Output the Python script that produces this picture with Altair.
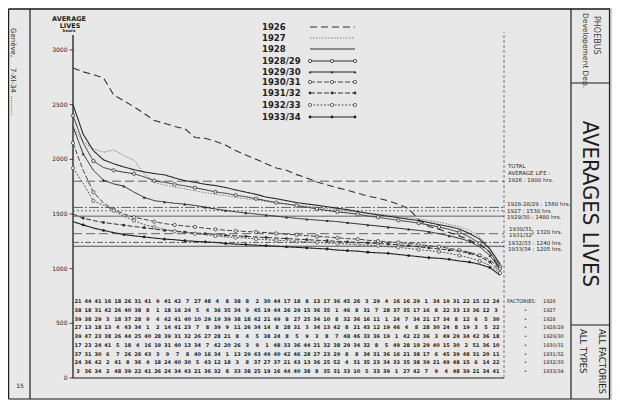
import altair as alt
import pandas as pd

# ---------------- data ----------------
years = ["1926", "1927", "1928", "1928/29", "1929/30", "1930/31", "1931/32", "1932/33", "1933/34"]
ranks = list(range(1, 44))

s1926 = [2835, 2800, 2775, 2744, 2590, 2535, 2480, 2420, 2355, 2330,
         2300, 2280, 2200, 2192, 2165, 2130, 2080, 2040, 2000, 1960,
         1920, 1900, 1860, 1830, 1793, 1765, 1740, 1718, 1690, 1664,
         1645, 1620, 1590, 1550, 1450, 1385, 1360, 1330, 1300, 1262,
         1220, 1150, 990]
s1927 = [2300, 2160, 2095, 2065, 2085, 2035, 1990, 1870, 1790, 1765,
         1745, 1730, 1712, 1695, 1680, 1668, 1652, 1640, 1628, 1614,
         1600, 1590, 1578, 1570, 1558, 1548, 1540, 1528, 1520, 1508,
         1500, 1490, 1478, 1468, 1455, 1440, 1425, 1405, 1385, 1350,
         1290, 1190, 1050]
s1928 = [2500, 2230, 2080, 1995, 1960, 1930, 1905, 1885, 1870, 1858,
         1830, 1805, 1790, 1772, 1760, 1742, 1720, 1700, 1680, 1655,
         1640, 1622, 1604, 1592, 1580, 1566, 1552, 1540, 1522, 1506,
         1492, 1480, 1466, 1452, 1440, 1422, 1402, 1385, 1362, 1322,
         1270, 1180, 1040]
s1928_29 = [2400, 2150, 1985, 1925, 1900, 1882, 1868, 1840, 1805, 1790,
            1772, 1758, 1740, 1722, 1702, 1690, 1672, 1658, 1640, 1622,
            1604, 1592, 1578, 1562, 1546, 1532, 1520, 1510, 1498, 1482,
            1470, 1456, 1442, 1430, 1416, 1400, 1380, 1360, 1332, 1290,
            1232, 1150, 1020]
s1929_30 = [2300, 2050, 1900, 1810, 1775, 1755, 1700, 1652, 1622, 1610,
            1598, 1590, 1578, 1562, 1546, 1532, 1520, 1510, 1500, 1490,
            1480, 1470, 1460, 1452, 1444, 1438, 1430, 1420, 1410, 1400,
            1390, 1380, 1370, 1360, 1350, 1338, 1320, 1300, 1278, 1250,
            1200, 1120, 1000]
s1930_31 = [2150, 1900, 1700, 1600, 1540, 1500, 1470, 1452, 1430, 1412,
            1400, 1390, 1382, 1370, 1360, 1352, 1345, 1340, 1335, 1330,
            1322, 1315, 1310, 1302, 1295, 1290, 1282, 1275, 1270, 1260,
            1252, 1245, 1240, 1230, 1222, 1210, 1200, 1186, 1170, 1150,
            1122, 1080, 1000]
s1931_32 = [1500, 1462, 1440, 1422, 1410, 1398, 1385, 1375, 1362, 1350,
            1345, 1335, 1326, 1320, 1314, 1305, 1300, 1295, 1290, 1285,
            1280, 1275, 1270, 1265, 1260, 1255, 1250, 1245, 1240, 1235,
            1230, 1225, 1218, 1210, 1200, 1190, 1180, 1170, 1160, 1140,
            1110, 1060, 980]
s1932_33 = [1920, 1780, 1620, 1580, 1530, 1480, 1440, 1402, 1380, 1360,
            1342, 1330, 1320, 1310, 1300, 1290, 1285, 1280, 1272, 1265,
            1260, 1255, 1250, 1245, 1240, 1235, 1230, 1225, 1220, 1215,
            1210, 1200, 1195, 1185, 1175, 1165, 1155, 1140, 1120, 1100,
            1070, 1030, 960]
s1933_34 = [1430, 1400, 1372, 1350, 1330, 1312, 1300, 1290, 1280, 1270,
            1265, 1255, 1250, 1245, 1240, 1230, 1225, 1220, 1215, 1210,
            1205, 1200, 1195, 1190, 1185, 1180, 1170, 1165, 1160, 1150,
            1145, 1140, 1130, 1120, 1110, 1100, 1095, 1085, 1070, 1060,
            1040, 1010, 940]
series_values = [s1926, s1927, s1928, s1928_29, s1929_30, s1930_31, s1931_32, s1932_33, s1933_34]

total_values = [1800, 1560, 1530, 1480, 1320, 1240, 1205]
y_ticks = [0, 500, 1000, 1500, 2000, 2500, 3000]

table_rows = [
    [21, 44, 41, 16, 18, 26, 31, 41, 9, 41, 42, 7, 27, 48, 4, 8, 38, 8, 2, 30, 44, 17, 18, 8, 13, 17, 36, 45, 26, 3, 29, 4, 16, 16, 29, 1, 34, 19, 31, 22, 15, 12, 24],
    [38, 18, 31, 42, 26, 40, 38, 8, 1, 18, 16, 24, 5, 4, 36, 35, 34, 9, 45, 19, 44, 26, 29, 15, 36, 35, 1, 46, 8, 31, 7, 28, 37, 35, 17, 16, 8, 22, 33, 13, 36, 12, 3],
    [39, 38, 29, 3, 18, 37, 28, 9, 4, 42, 41, 40, 10, 29, 19, 39, 38, 18, 42, 21, 49, 8, 27, 25, 34, 10, 8, 32, 36, 16, 11, 1, 24, 7, 34, 21, 17, 34, 8, 12, 6, 5, 30],
    [27, 13, 18, 13, 4, 43, 34, 1, 2, 14, 41, 23, 7, 8, 39, 9, 11, 26, 34, 14, 8, 28, 31, 3, 34, 13, 42, 8, 21, 43, 12, 19, 46, 4, 8, 28, 30, 24, 8, 19, 3, 5, 22],
    [39, 47, 23, 38, 26, 44, 25, 40, 28, 39, 31, 32, 26, 27, 28, 21, 8, 4, 5, 38, 24, 8, 5, 9, 3, 8, 7, 48, 46, 33, 36, 19, 1, 42, 22, 36, 3, 49, 29, 34, 42, 36, 18],
    [17, 23, 24, 41, 5, 18, 4, 16, 19, 31, 40, 13, 34, 7, 42, 20, 26, 3, 9, 1, 48, 33, 36, 44, 21, 32, 38, 29, 34, 32, 8, 5, 49, 28, 19, 29, 40, 15, 30, 2, 51, 36, 10],
    [37, 31, 30, 6, 7, 26, 26, 43, 3, 9, 7, 8, 40, 16, 34, 1, 13, 29, 43, 49, 40, 42, 46, 28, 27, 23, 29, 8, 8, 34, 31, 36, 16, 21, 38, 17, 6, 45, 39, 48, 31, 20, 11],
    [24, 36, 42, 2, 41, 8, 36, 4, 18, 24, 40, 30, 5, 43, 12, 18, 3, 8, 37, 27, 37, 21, 43, 13, 36, 25, 52, 4, 31, 35, 23, 34, 33, 35, 38, 39, 21, 49, 48, 15, 6, 14, 22],
    [3, 36, 34, 2, 48, 39, 22, 41, 26, 24, 34, 43, 21, 36, 32, 8, 33, 38, 25, 19, 16, 44, 40, 38, 8, 35, 31, 33, 10, 5, 33, 39, 1, 27, 42, 7, 9, 4, 48, 39, 21, 34, 41],
]

# ---------------- geometry & styles ----------------
M = 8
W, H = 604, 392
X_PX0, X_PX1 = 73.0, 500.0
PXR = (X_PX1 - X_PX0) / 42.0
Y_PX0, Y_PX3 = 378.0, 50.0
PXH = (Y_PX0 - Y_PX3) / 3000.0


def rk(px):
    return 1 + (px - X_PX0) / PXR


def hr(py):
    return (Y_PX0 - py) / PXH


INK = "#1e1e1e"
PAPER = "#e8e8e8"
FONT = "DejaVu Sans"
NARROW = "Liberation Sans Narrow, DejaVu Sans Condensed, DejaVu Sans"

XS = alt.Scale(domain=[rk(M), rk(M + W)], nice=False, zero=False)
YS = alt.Scale(domain=[hr(M + H), hr(M)], nice=False, zero=False)


def X(f):
    return alt.X(f, type="quantitative", scale=XS, axis=None)


def Y(f):
    return alt.Y(f, type="quantitative", scale=YS, axis=None)


STYLE = {
    "1926":    dict(color="#333333", dash=[7, 4], width=1.1, marker=None),
    "1927":    dict(color="#808080", dash=[1.5, 1.5], width=1.0, marker=None),
    "1928":    dict(color="#2a2a2a", dash=[1, 0], width=1.1, marker=None),
    "1928/29": dict(color="#333333", dash=[1, 0], width=1.0, marker="open"),
    "1929/30": dict(color="#262626", dash=[1, 0], width=1.0, marker="tri"),
    "1930/31": dict(color="#444444", dash=[5, 2], width=1.0, marker="open"),
    "1931/32": dict(color="#333333", dash=[5, 2], width=1.0, marker="dot"),
    "1932/33": dict(color="#555555", dash=[2, 1.5], width=1.0, marker="open"),
    "1933/34": dict(color="#202020", dash=[1, 0], width=1.1, marker="dot"),
}
TOTAL_STYLE = [([9, 4], "#505050"), ([10, 2, 2, 2], "#555555"), ([2, 2], "#666666"),
               ([1, 0], "#555555"), ([9, 4], "#555555"), ([6, 2, 2, 2], "#505050"), ([1, 0], "#444444")]

ONE = pd.DataFrame({"k": [0]})
layers = []


def marker_layer(df, color, kind):
    if kind == "open":
        return alt.Chart(df).mark_point(shape="circle", filled=True, fill=PAPER, stroke=color,
                                        strokeWidth=0.8, size=11, opacity=1).encode(x=X("x"), y=Y("y"))
    if kind == "tri":
        return alt.Chart(df).mark_point(shape="triangle-up", filled=True, color=color,
                                        size=9, opacity=1).encode(x=X("x"), y=Y("y"))
    return alt.Chart(df).mark_circle(color=color, size=8, opacity=1).encode(x=X("x"), y=Y("y"))


def txt(s, px, py, size=6, angle=0, align="left", weight="normal", font=FONT, color=INK, baseline="middle"):
    return alt.Chart(ONE).mark_text(text=s, fontSize=size, angle=angle, align=align, baseline=baseline,
                                    fontWeight=weight, font=font, color=color).encode(
        x=alt.value(px - M), y=alt.value(py - M))


def prule(x1, y1, x2, y2, color=INK, width=1.2, dash=None):
    kw = dict(color=color, strokeWidth=width)
    if dash:
        kw["strokeDash"] = dash
    return alt.Chart(ONE).mark_rule(**kw).encode(
        x=alt.value(x1 - M), x2=alt.value(x2 - M), y=alt.value(y1 - M), y2=alt.value(y2 - M))


# right margin shading
layers.append(alt.Chart(ONE).mark_rect(color="#cfcfcf").encode(
    x=alt.value(610 - M), x2=alt.value(W), y=alt.value(0), y2=alt.value(H)))

# y axis: line, ticks and labels drawn through the scales
axis_df = pd.DataFrame({"x": [1.0], "y": [0.0], "y2": [hr(35)]})
layers.append(alt.Chart(axis_df).mark_rule(color=INK, strokeWidth=1.3).encode(
    x=X("x"), y=Y("y"), y2="y2:Q"))
tick_df = pd.DataFrame({"x": [rk(69.5)] * len(y_ticks), "x2": [1.0] * len(y_ticks), "y": y_ticks,
                        "lx": [rk(67.5)] * len(y_ticks), "t": [str(v) for v in y_ticks]})
layers.append(alt.Chart(tick_df).mark_rule(color=INK, strokeWidth=0.8).encode(
    x=X("x"), x2="x2:Q", y=Y("y")))
layers.append(alt.Chart(tick_df).mark_text(align="right", baseline="middle", fontSize=6, font=FONT,
                                           color=INK).encode(x=X("lx"), y=Y("y"), text="t:N"))

# table box: bottom line and right dashed vertical
XR = rk(504)
box_df = pd.DataFrame({"x": [1.0], "x2": [XR], "y": [0.0]})
layers.append(alt.Chart(box_df).mark_rule(color=INK, strokeWidth=1.2).encode(x=X("x"), x2="x2:Q", y=Y("y")))
vr_df = pd.DataFrame({"x": [XR], "y": [0.0], "y2": [hr(32)]})
layers.append(alt.Chart(vr_df).mark_rule(color="#555555", strokeWidth=0.8, strokeDash=[3, 2]).encode(
    x=X("x"), y=Y("y"), y2="y2:Q"))

# total average reference lines
for val, (dash, col) in zip(total_values, TOTAL_STYLE):
    d = pd.DataFrame({"x": [1.0], "x2": [XR], "y": [val]})
    layers.append(alt.Chart(d).mark_rule(color=col, strokeWidth=0.9, strokeDash=dash).encode(
        x=X("x"), x2="x2:Q", y=Y("y")))

# series
for i, (yr, vals) in enumerate(zip(years, series_values)):
    st = STYLE[yr]
    df = pd.DataFrame({"x": ranks, "y": vals})
    layers.append(alt.Chart(df).mark_line(color=st["color"], strokeWidth=st["width"],
                                          strokeDash=st["dash"]).encode(x=X("x"), y=Y("y")))
    if st["marker"]:
        sub = df[df["x"] % 2 == (i % 2)]
        layers.append(marker_layer(sub, st["color"], st["marker"]))

# legend
LEG_Y = [27, 38, 49, 61, 72, 82, 93, 105, 117]
for yr, py in zip(years, LEG_Y):
    st = STYLE[yr]
    ld = pd.DataFrame({"x": [rk(310), rk(332), rk(355)], "y": [hr(py)] * 3})
    layers.append(alt.Chart(ld).mark_line(color=st["color"], strokeWidth=st["width"],
                                          strokeDash=st["dash"]).encode(x=X("x"), y=Y("y")))
    if st["marker"]:
        layers.append(marker_layer(ld, st["color"], st["marker"]))
    lt = pd.DataFrame({"x": [rk(262)], "y": [hr(py)], "t": [yr]})
    layers.append(alt.Chart(lt).mark_text(align="left", baseline="middle", fontSize=8.5, fontWeight="bold",
                                          font=FONT, color=INK).encode(x=X("x"), y=Y("y"), text="t:N"))

# table of factory numbers
ROW_PY = [301 + 8.75 * k for k in range(9)]
COL_R0, COL_R1 = rk(78), rk(496)
trs = []
for k, row in enumerate(table_rows):
    for j, n in enumerate(row):
        trs.append({"x": COL_R0 + j * (COL_R1 - COL_R0) / 42.0, "y": hr(ROW_PY[k]), "t": str(n)})
tdf = pd.DataFrame(trs)
layers.append(alt.Chart(tdf).mark_text(align="center", baseline="middle", fontSize=5, fontWeight="bold",
                                       font=FONT, color=INK).encode(x=X("x"), y=Y("y"), text="t:N"))

# table row labels at right
lab_rows = []
for k, yr in enumerate(years):
    lab_rows.append({"x": rk(543), "y": hr(ROW_PY[k]), "t": yr})
    lab_rows.append({"x": rk(507) if k == 0 else rk(524), "y": hr(ROW_PY[k]),
                     "t": "FACTORIES:" if k == 0 else "\u2022"})
ldf = pd.DataFrame(lab_rows)
layers.append(alt.Chart(ldf).mark_text(align="left", baseline="middle", fontSize=5,
                                       font=FONT, color=INK).encode(x=X("x"), y=Y("y"), text="t:N"))

# annotations for totals
ann = [("TOTAL", 508, 166), ("AVERAGE LIFE :", 508, 173), ("1926 :  1800 hrs.", 508, 180),
       ("1928-28/29 : 1560 hrs.", 507, 204), ("1927  :  1530 hrs", 507, 211),
       ("1929/30 : 1480 hrs.", 507, 217), ("1930/31", 509, 229), ("1931/32", 509, 235),
       ("}  1320 hrs.", 531, 232), ("1932/33  :  1240 hrs.", 508, 243), ("1933/34  :  1205 hrs.", 508, 249)]
for s, px, py in ann:
    layers.append(txt(s, px, py, size=5.5))

# y axis title
layers.append(txt("AVERAGE", 69, 19, size=6.5, align="center", weight="bold"))
layers.append(txt("LIVES", 70, 25.5, size=6.5, align="center", weight="bold"))
layers.append(txt("hours", 69, 31, size=4, align="center", weight="bold"))

# frame
layers.append(prule(8.5, 9, 610, 9, width=1.4))
layers.append(prule(8.5, 399, 610, 399, width=1.2))
layers.append(prule(8.5, 9, 8.5, 399, width=1.4))
layers.append(prule(30, 9, 30, 399, width=1.2))
layers.append(prule(609.5, 9, 609.5, 399, width=1.2))
layers.append(prule(571, 9, 571, 399, width=1.2))
layers.append(prule(571, 83, 609.5, 83, width=1.2))
layers.append(prule(571, 325, 609.5, 325, width=1.2))

# side texts
layers.append(txt("Genève,", 13, 28, size=7, angle=90, align="left"))
layers.append(txt("7-XI-34 .........", 13, 68, size=7, angle=90, align="left"))
layers.append(txt("15", 20, 386, size=6, align="center"))
layers.append(txt("PHOEBUS", 596, 16, size=8, angle=90, align="left", color="#444444"))
layers.append(txt("Developement Dep.", 585, 13, size=7.5, angle=90, align="left", color="#333333"))
layers.append(txt("AVERAGES  LIVES", 590, 204, size=22, angle=90, align="center", font=NARROW))
layers.append(txt("ALL FACTORIES", 602, 329, size=9.5, angle=90, align="left", font=NARROW))
layers.append(txt("ALL TYPES", 583, 329, size=9.5, angle=90, align="left", font=NARROW))

chart = alt.layer(*layers).properties(
    width=W, height=H, padding=0, background=PAPER,
    autosize=alt.AutoSizeParams(type="none"),
).configure_view(strokeWidth=0)

chart.save("out.html", embed_options={"renderer": "svg", "actions": False})
